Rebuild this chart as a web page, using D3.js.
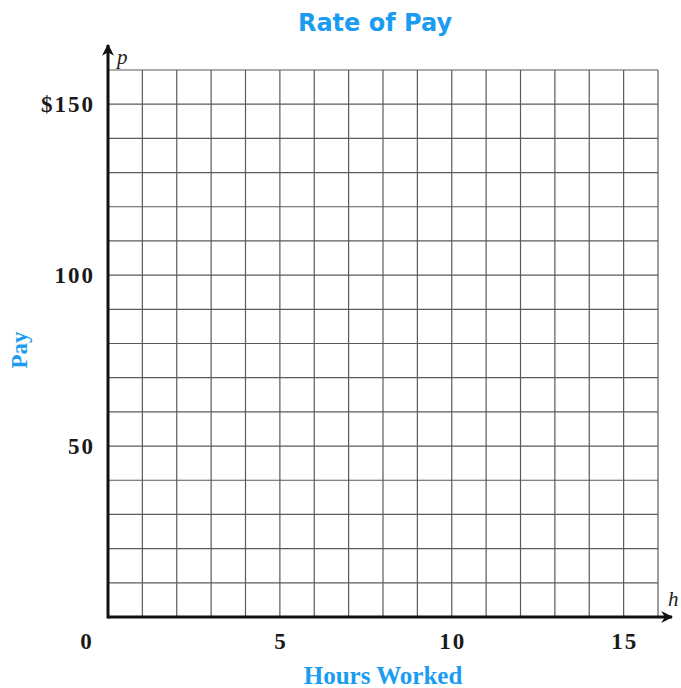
<!DOCTYPE html>
<html>
<head>
<meta charset="utf-8">
<script src="https://cdn.jsdelivr.net/npm/d3@7"></script>
<style>
  body { margin: 0; background: #fff; }
  .tick-label { font-family: "Liberation Serif", "DejaVu Serif", serif; font-weight: bold; font-size: 23px; letter-spacing: 2px; fill: #1a1a1a; }
  .axis-title { font-family: "Liberation Serif", serif; font-weight: bold; font-size: 25px; fill: #1a9cf0; }
</style>
</head>
<body>
<svg id="chart"></svg>
<script>
// chart data
const title = "Rate of Pay";
const xLabel = "Hours Worked";
const yLabel = "Pay";
const xMax = 16;
const yMax = 160;
const xGridStep = 1;
const yGridStep = 10;
const xTicks = [0, 5, 10, 15];
const xTickLabels = ["0", "5", "10", "15"];
const yTicks = [50, 100, 150];
const yTickLabels = ["50", "100", "$150"];

const W = 681, H = 688;
const svg = d3.select("#chart").attr("width", W).attr("height", H);

const x = d3.scaleLinear().domain([0, xMax]).range([108, 658]);
const y = d3.scaleLinear().domain([0, yMax]).range([617, 70]);

// grid
svg.append("g").selectAll("line")
    .data(d3.range(xGridStep, xMax + 0.001, xGridStep))
    .join("line")
    .attr("x1", d => x(d)).attr("x2", d => x(d))
    .attr("y1", y(0)).attr("y2", y(yMax))
    .attr("stroke", "#5a5a5a").attr("stroke-width", 1.2);

svg.append("g").selectAll("line")
    .data(d3.range(yGridStep, yMax + 0.001, yGridStep))
    .join("line")
    .attr("x1", x(0)).attr("x2", x(xMax))
    .attr("y1", d => y(d)).attr("y2", d => y(d))
    .attr("stroke", "#5a5a5a").attr("stroke-width", 1.2);

// arrowheads
const defs = svg.append("defs");
defs.append("marker")
    .attr("id", "arrow")
    .attr("viewBox", "0 0 10 10")
    .attr("refX", 9).attr("refY", 5)
    .attr("markerWidth", 4).attr("markerHeight", 4)
    .attr("orient", "auto")
    .append("path").attr("d", "M0,0 L10,5 L0,10 L3,5 Z").attr("fill", "#111");

// axes
svg.append("line")
    .attr("x1", x(0)).attr("x2", 672)
    .attr("y1", y(0)).attr("y2", y(0))
    .attr("stroke", "#111").attr("stroke-width", 3)
    .attr("marker-end", "url(#arrow)");
svg.append("line")
    .attr("x1", x(0)).attr("x2", x(0))
    .attr("y1", y(0) + 1.5).attr("y2", 45)
    .attr("stroke", "#111").attr("stroke-width", 3)
    .attr("marker-end", "url(#arrow)");

// variable names
svg.append("text").attr("x", 117).attr("y", 64)
    .style("font-family", "Liberation Serif, serif").style("font-style", "italic")
    .style("font-size", "21px").attr("fill", "#222").text("p");
svg.append("text").attr("x", 668).attr("y", 606)
    .style("font-family", "Liberation Serif, serif").style("font-style", "italic")
    .style("font-size", "21px").attr("fill", "#222").text("h");

// tick labels
svg.append("g").selectAll("text")
    .data(xTicks)
    .join("text")
    .attr("class", "tick-label")
    .attr("x", (d, i) => (i === 0 ? x(d) - 22 : x(d)) + 1)
    .attr("y", 649)
    .attr("text-anchor", "middle")
    .text((d, i) => xTickLabels[i]);

svg.append("g").selectAll("text")
    .data(yTicks)
    .join("text")
    .attr("class", "tick-label")
    .attr("x", 95)
    .attr("y", d => y(d) + 8)
    .attr("text-anchor", "end")
    .text((d, i) => yTickLabels[i]);

// titles
svg.append("text")
    .attr("x", 375).attr("y", 31)
    .attr("text-anchor", "middle")
    .style("font-family", "'DejaVu Sans', sans-serif")
    .style("font-weight", "bold").style("font-size", "24px")
    .attr("fill", "#1a9cf0")
    .text(title);

svg.append("text")
    .attr("class", "axis-title")
    .attr("x", 383).attr("y", 684)
    .attr("text-anchor", "middle")
    .text(xLabel);

svg.append("text")
    .attr("class", "axis-title")
    .style("font-size", "23px")
    .attr("transform", "translate(27,350) rotate(-90)")
    .attr("text-anchor", "middle")
    .text(yLabel);
</script>
</body>
</html>
